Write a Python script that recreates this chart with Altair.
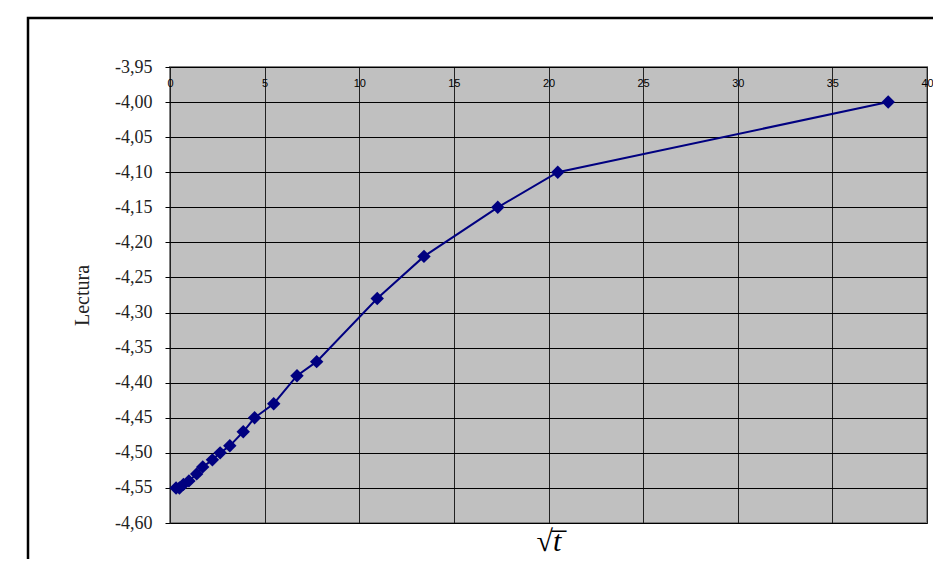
import altair as alt
import pandas as pd

sqrt_t = [0.32, 0.5, 0.71, 1.0, 1.41, 1.73, 2.24, 2.65, 3.16, 3.87, 4.47, 5.48,
          6.71, 7.75, 10.95, 13.42, 17.32, 20.49, 37.95]
lectura = [-4.55, -4.55, -4.545, -4.54, -4.53, -4.52, -4.51, -4.50, -4.49, -4.47,
           -4.45, -4.43, -4.39, -4.37, -4.28, -4.22, -4.15, -4.10, -4.00]
y_ticks = [-4.60, -4.55, -4.50, -4.45, -4.40, -4.35, -4.30, -4.25,
           -4.20, -4.15, -4.10, -4.05, -4.00, -3.95]
x_ticks = [0, 5, 10, 15, 20, 25, 30, 35, 40]

df = pd.DataFrame({"x": sqrt_t, "y": lectura})

ylabel = "(datum.value < 0 ? '-' : '') + replace(format(abs(datum.value), '.2f'), '.', ',')"

xscale = alt.Scale(domain=[0, 40], nice=False, zero=True)
yscale = alt.Scale(domain=[-4.60, -3.95], nice=False, zero=False)

yaxis = alt.Axis(values=y_ticks, labelExpr=ylabel, grid=True, gridColor="#000000", gridWidth=1,
                 domain=False, tickColor="#000000", tickSize=5, labelPadding=13,
                 labelOverlap=False, labelFont="Liberation Serif", labelFontSize=18,
                 labelColor="#222222", title="Lectura", titleFont="Liberation Serif",
                 titleFontSize=20, titleFontWeight="normal", titleColor="#222222",
                 titlePadding=22)

base = alt.Chart(df)

line = base.mark_line(color="#000080", strokeWidth=2).encode(
    x=alt.X("x:Q", scale=xscale,
            axis=alt.Axis(orient="top", values=x_ticks, grid=True,
                          gridColor="#222222", gridWidth=1, domain=False, ticks=False,
                          labelFont="Liberation Sans", labelFontSize=11, labelColor="#000000",
                          labelBaseline="middle", labelPadding=-16, labelFlush=False,
                          labelOverlap=False, labelAngle=0, title=None)),
    y=alt.Y("y:Q", scale=yscale, axis=yaxis),
)

points = base.mark_point(shape="diamond", filled=True, color="#000080", size=180, opacity=1).encode(
    x=alt.X("x:Q", scale=xscale,
            axis=alt.Axis(orient="bottom", labels=False, ticks=False, domain=False, grid=False,
                          title="√t̅", titleFont="Liberation Serif", titleFontSize=30,
                          titleFontWeight="normal", titleFontStyle="italic",
                          titleColor="#000000", titlePadding=3)),
    y=alt.Y("y:Q", scale=yscale, axis=yaxis),
)

frame = alt.Chart(pd.DataFrame({"a": [0]})).mark_rect(
    fillOpacity=0, stroke="#000000", strokeWidth=2.5
).encode(
    x=alt.value(-142), x2=alt.value(900), y=alt.value(-49), y2=alt.value(700)
)

chart = alt.layer(frame, line, points).resolve_axis(x="independent").properties(
    width=757, height=456,
    padding={"left": 162, "top": 59, "right": 6, "bottom": 36},
    autosize=alt.AutoSizeParams(type="none"),
).configure(
    background="#FFFFFF"
).configure_view(
    fill="#C0C0C0", stroke="#808080", strokeWidth=2
)

chart.save("out.html", embed_options={"renderer": "svg", "actions": False})
